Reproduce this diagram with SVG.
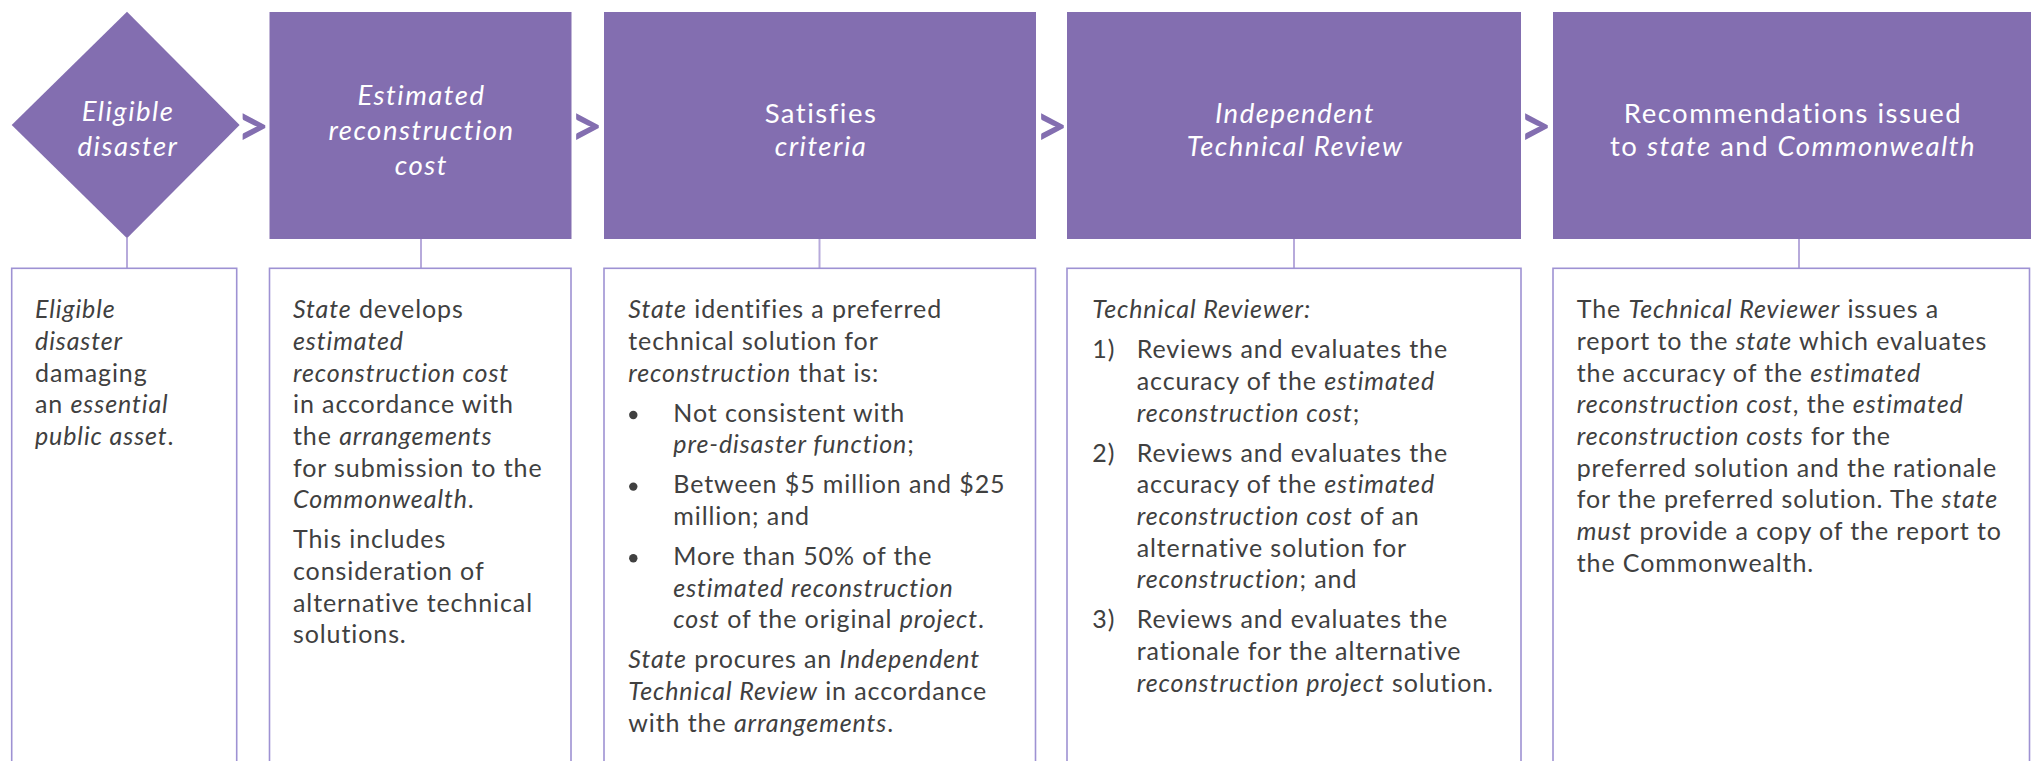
<svg xmlns="http://www.w3.org/2000/svg" width="2031" height="761" viewBox="0 0 2031 761">
<style>
.node{fill:#836EB0}
.panel{fill:#FFFFFF;stroke:#9E92D3;stroke-width:1.6}
.conn{stroke:#B7AADB;stroke-width:2;fill:none}
.hd{font-family:Lato,"Noto Sans",sans-serif;font-size:27.5px;letter-spacing:1.5px;fill:#FFFFFF;text-anchor:middle}
.bd{font-family:Lato,"Noto Sans",sans-serif;font-size:25px;letter-spacing:0.9px;fill:#404040}
.chev{font-family:Lato,"Noto Sans",sans-serif;font-size:57px;font-weight:bold;fill:#836EB0;text-anchor:middle}
.i{font-style:italic}
.dot{fill:#404040}
</style>
<rect width="2031" height="761" fill="#FFFFFF"/>
<g id="connectors">
<line class="conn" x1="127" y1="238" x2="127" y2="268"/>
<line class="conn" x1="421" y1="239" x2="421" y2="268"/>
<line class="conn" x1="819.5" y1="239" x2="819.5" y2="268"/>
<line class="conn" x1="1294" y1="239" x2="1294" y2="268"/>
<line class="conn" x1="1799" y1="239" x2="1799" y2="268"/>
<text class="chev" x="253" y="145.5">&gt;</text>
<text class="chev" x="586.5" y="145.5">&gt;</text>
<text class="chev" x="1051.5" y="145.5">&gt;</text>
<text class="chev" x="1535.5" y="145.5">&gt;</text>
</g>
<g id="node-eligible-disaster">
<polygon class="node" points="127,11.7 239.6,125 127,238.3 11.7,125"/>
<text class="hd i" x="128" y="121">Eligible</text>
<text class="hd i" x="128" y="156">disaster</text>
</g>
<g id="node-estimated-cost">
<rect class="node" x="269.5" y="12" width="302" height="227"/>
<text class="hd i" x="421.5" y="104.5">Estimated</text>
<text class="hd i" x="421.5" y="139.5">reconstruction</text>
<text class="hd i" x="421.5" y="174.5">cost</text>
</g>
<g id="node-satisfies-criteria">
<rect class="node" x="604" y="12" width="432" height="227"/>
<text class="hd" x="821" y="122.7">Satisfies</text>
<text class="hd i" x="821" y="156">criteria</text>
</g>
<g id="node-itr">
<rect class="node" x="1067" y="12" width="454" height="227"/>
<text class="hd i" x="1295" y="122.7">Independent</text>
<text class="hd i" x="1295" y="156">Technical Review</text>
</g>
<g id="node-recommendations">
<rect class="node" x="1553" y="12" width="478" height="227"/>
<text class="hd" x="1793" y="122.7">Recommendations issued</text>
<text class="hd" x="1793" y="156">to <tspan class="i">state</tspan> and <tspan class="i">Commonwealth</tspan></text>
</g>
<g id="panel-1">
<rect class="panel" x="11.7" y="268.3" width="225" height="520"/>
<text class="bd" x="35" y="318.3"><tspan class="i">Eligible</tspan></text>
<text class="bd" x="35" y="350"><tspan class="i">disaster</tspan></text>
<text class="bd" x="35" y="381.7">damaging</text>
<text class="bd" x="35" y="413.3">an <tspan class="i">essential</tspan></text>
<text class="bd" x="35" y="445"><tspan class="i">public asset</tspan>.</text>
</g>
<g id="panel-2">
<rect class="panel" x="269.5" y="268.3" width="301.5" height="520"/>
<text class="bd" x="293" y="318.3"><tspan class="i">State</tspan> develops</text>
<text class="bd" x="293" y="350"><tspan class="i">estimated</tspan></text>
<text class="bd" x="293" y="381.7"><tspan class="i">reconstruction cost</tspan></text>
<text class="bd" x="293" y="413.3">in accordance with</text>
<text class="bd" x="293" y="445">the <tspan class="i">arrangements</tspan></text>
<text class="bd" x="293" y="476.7">for submission to the</text>
<text class="bd" x="293" y="508.3"><tspan class="i">Commonwealth</tspan>.</text>
<text class="bd" x="293" y="548.3">This includes</text>
<text class="bd" x="293" y="580">consideration of</text>
<text class="bd" x="293" y="611.7">alternative technical</text>
<text class="bd" x="293" y="643.3">solutions.</text>
</g>
<g id="panel-3">
<rect class="panel" x="604" y="268.3" width="431.5" height="520"/>
<text class="bd" x="628.3" y="318.3"><tspan class="i">State</tspan> identifies a preferred</text>
<text class="bd" x="628.3" y="350">technical solution for</text>
<text class="bd" x="628.3" y="381.7"><tspan class="i">reconstruction</tspan> that is:</text>
<circle class="dot" cx="633.3" cy="415" r="4.2"/>
<text class="bd" x="673.3" y="421.7">Not consistent with</text>
<text class="bd" x="673.3" y="453.3"><tspan class="i">pre-disaster function</tspan>;</text>
<circle class="dot" cx="633.3" cy="486.6" r="4.2"/>
<text class="bd" x="673.3" y="493.3">Between $5 million and $25</text>
<text class="bd" x="673.3" y="525">million; and</text>
<circle class="dot" cx="633.3" cy="558.3" r="4.2"/>
<text class="bd" x="673.3" y="565">More than 50% of the</text>
<text class="bd" x="673.3" y="596.7"><tspan class="i">estimated reconstruction</tspan></text>
<text class="bd" x="673.3" y="628.3"><tspan class="i">cost</tspan> of the original <tspan class="i">project</tspan>.</text>
<text class="bd" x="628.3" y="668.3"><tspan class="i">State</tspan> procures an <tspan class="i">Independent</tspan></text>
<text class="bd" x="628.3" y="700"><tspan class="i">Technical Review</tspan> in accordance</text>
<text class="bd" x="628.3" y="731.7">with the <tspan class="i">arrangements</tspan>.</text>
</g>
<g id="panel-4">
<rect class="panel" x="1067" y="268.3" width="454" height="520"/>
<text class="bd" x="1092.3" y="318.3"><tspan class="i">Technical Reviewer:</tspan></text>
<text class="bd" x="1092.3" y="358.3">1)</text>
<text class="bd" x="1136.7" y="358.3">Reviews and evaluates the</text>
<text class="bd" x="1136.7" y="390">accuracy of the <tspan class="i">estimated</tspan></text>
<text class="bd" x="1136.7" y="421.7"><tspan class="i">reconstruction cost</tspan>;</text>
<text class="bd" x="1092.3" y="461.7">2)</text>
<text class="bd" x="1136.7" y="461.7">Reviews and evaluates the</text>
<text class="bd" x="1136.7" y="493.3">accuracy of the <tspan class="i">estimated</tspan></text>
<text class="bd" x="1136.7" y="525"><tspan class="i">reconstruction cost</tspan> of an</text>
<text class="bd" x="1136.7" y="556.7">alternative solution for</text>
<text class="bd" x="1136.7" y="588.3"><tspan class="i">reconstruction</tspan>; and</text>
<text class="bd" x="1092.3" y="628.3">3)</text>
<text class="bd" x="1136.7" y="628.3">Reviews and evaluates the</text>
<text class="bd" x="1136.7" y="660">rationale for the alternative</text>
<text class="bd" x="1136.7" y="691.7"><tspan class="i">reconstruction project</tspan> solution.</text>
</g>
<g id="panel-5">
<rect class="panel" x="1553" y="268.3" width="476.5" height="520"/>
<text class="bd" x="1576.7" y="318.3">The <tspan class="i">Technical Reviewer</tspan> issues a</text>
<text class="bd" x="1576.7" y="350">report to the <tspan class="i">state</tspan> which evaluates</text>
<text class="bd" x="1576.7" y="381.7">the accuracy of the <tspan class="i">estimated</tspan></text>
<text class="bd" x="1576.7" y="413.3"><tspan class="i">reconstruction cost</tspan>, the <tspan class="i">estimated</tspan></text>
<text class="bd" x="1576.7" y="445"><tspan class="i">reconstruction costs</tspan> for the</text>
<text class="bd" x="1576.7" y="476.7">preferred solution and the rationale</text>
<text class="bd" x="1576.7" y="508.3">for the preferred solution. The <tspan class="i">state</tspan></text>
<text class="bd" x="1576.7" y="540"><tspan class="i">must</tspan> provide a copy of the report to</text>
<text class="bd" x="1576.7" y="571.7">the Commonwealth.</text>
</g>
</svg>
